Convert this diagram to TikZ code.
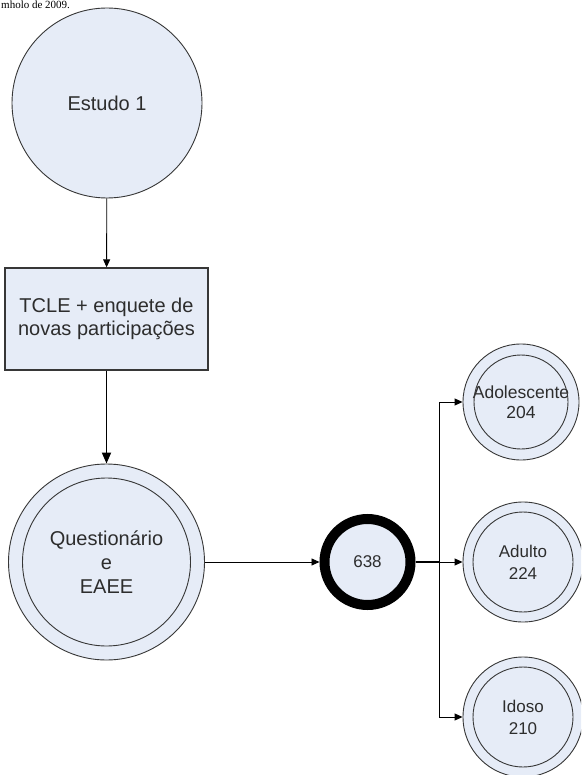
\documentclass[tikz,border=0pt]{standalone}
\usepackage{fontspec}
\setmainfont{Liberation Sans}
\newfontfamily\serifpart{Liberation Serif}
\usetikzlibrary{arrows.meta}
\definecolor{fillc}{RGB}{230,236,247}
\definecolor{edgec}{RGB}{55,55,55}
\definecolor{txtc}{RGB}{45,45,45}
\begin{document}
\begin{tikzpicture}[x=1pt,y=-1pt,
  circ/.style={circle, draw=edgec, fill=fillc, line width=0.9pt, inner sep=0pt, text=txtc, align=center},
  boxn/.style={rectangle, draw=edgec, fill=fillc, line width=1.3pt, inner sep=0pt, text=txtc, align=center},
  inner/.style={draw=edgec, line width=0.9pt},
  conn/.style={draw=black, line width=0.9pt, -{Triangle[length=8pt,width=7pt]}},
  thickconn/.style={draw=black, line width=1.8pt, -{Triangle[length=11pt,width=9pt]}},
  bigtxt/.style={font=\fontsize{20}{24}\selectfont},
  smalltxt/.style={font=\fontsize{17}{22}\selectfont}
  ]
\useasboundingbox (0,0) rectangle (581,775);
\clip (0,0) rectangle (581,775);
\fill[white] (0,0) rectangle (581,775);
% line of text at the top
\node[anchor=base west, inner sep=0pt, font=\serifpart\fontsize{11}{11}\selectfont] (hdr) at (1,9) {mholo de 2009.};
% main nodes
\node[circ, minimum size=190pt, bigtxt] (est) at (107,103) {Estudo 1};
\node[boxn, minimum width=203pt, minimum height=102pt, font=\fontsize{20}{23}\selectfont] (tcle) at (106.5,319) {TCLE + enquete de\\novas participações};
\node[circ, minimum size=196pt, bigtxt] (quest) at (106.5,562) {Questionário\\e\\EAEE};
\draw[inner] (quest.center) circle (84);
\node[circle, draw=black, line width=10pt, fill=fillc, inner sep=0pt, minimum size=86pt, text=txtc, smalltxt] (tot) at (367.5,562) {638};
\node[circ, minimum size=116pt, font=\fontsize{17.5}{19.5}\selectfont] (ado) at (521,402) {Adolescente\\204};
\draw[inner] (ado.center) circle (47);
\node[circ, minimum size=120pt, smalltxt] (adu) at (523,562) {Adulto\\224};
\draw[inner] (adu.center) circle (50);
\node[circ, minimum size=120pt, smalltxt] (ido) at (523,717) {Idoso\\210};
\draw[inner] (ido.center) circle (50);
\coordinate (split) at (439,562);
% connectors
\draw[conn] (est) -- (tcle);
\draw[thickconn] (tcle) -- (quest);
\draw[conn] (quest) -- (tot);
\draw[line width=1.4pt] (tot) -- (split);
\draw[conn] (split) |- (ado.west);
\draw[conn] (split) -- (adu);
\draw[conn] (split) |- (ido.west);
\end{tikzpicture}
\end{document}
